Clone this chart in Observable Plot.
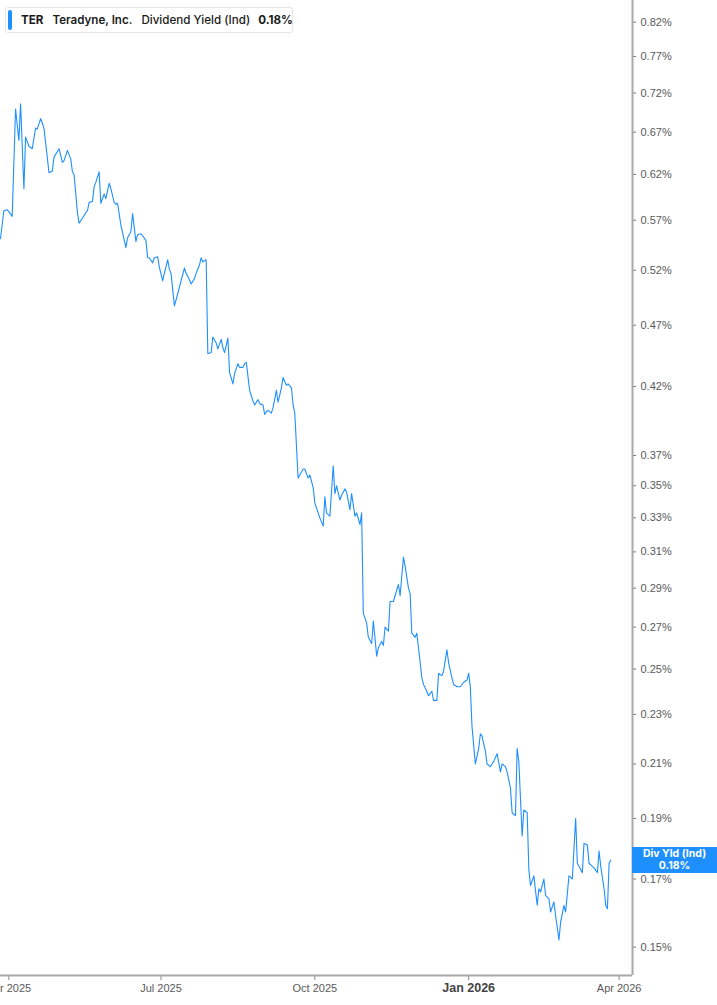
<!DOCTYPE html>
<html>
<head>
<meta charset="utf-8">
<script src="https://cdn.jsdelivr.net/npm/d3@7"></script>
<script src="https://cdn.jsdelivr.net/npm/@observablehq/plot@0.6"></script>
<style>
  html, body { margin: 0; padding: 0; background: #fff; }
  #wrap { position: relative; width: 717px; height: 1005px; overflow: hidden; }
  #legend {
    position: absolute; left: 5px; top: 7px; width: 288px; height: 26px; padding: 0 0 0 15px;
    border: 1px solid #e6e6e6; border-radius: 3px; background: #fff;
    font-family: Inter, "Noto Sans", sans-serif; font-size: 11.6px; color: #1a1a1a;
    display: flex; align-items: center; white-space: nowrap; box-sizing: border-box;
  }
  #legend .bar { position: absolute; left: 2px; top: 2px; bottom: 2px; width: 4px; border-radius: 2px; background: #1e8fff; }
  #legend b { font-weight: 700; }
  #legend .name { font-weight: 600; margin-left: 9px; }
  #legend .metric { font-weight: 500; margin-left: 9px; }
  #legend .val { font-weight: 700; margin-left: 8px; }
  #lastLabel {
    position: absolute; left: 632px; width: 85px; height: 26px; background: #1e8fff; color: #fff;
    font-family: Inter, "Noto Sans", sans-serif; font-size: 10.5px; font-weight: 700; line-height: 12px;
    text-align: center; display: flex; flex-direction: column; justify-content: center;
  }
</style>
</head>
<body>
<div id="wrap">
  <div id="legend"><span class="bar"></span><b id="lgTicker"></b><span class="name" id="lgName"></span><span class="metric" id="lgMetric"></span><span class="val" id="legendVal"></span></div>
</div>
<script>
const ticker = "TER";
const company = "Teradyne, Inc.";
const metricName = "Dividend Yield (Ind)";
const shortName = "Div Yld (Ind)";

const dates = [
"2025-03-27","2025-03-29","2025-03-31","2025-04-01","2025-04-03","2025-04-05","2025-04-07","2025-04-08","2025-04-10","2025-04-11",
"2025-04-13","2025-04-15","2025-04-17","2025-04-18","2025-04-20","2025-04-22","2025-04-23","2025-04-25","2025-04-27","2025-04-28",
"2025-05-01","2025-05-03","2025-05-04","2025-05-06","2025-05-08","2025-05-09","2025-05-10","2025-05-12","2025-05-13","2025-05-15",
"2025-05-17","2025-05-18","2025-05-19","2025-05-21","2025-05-22","2025-05-23","2025-05-25","2025-05-26","2025-05-28","2025-05-29",
"2025-05-31","2025-06-01","2025-06-03","2025-06-04","2025-06-05","2025-06-07","2025-06-10","2025-06-11","2025-06-13","2025-06-14",
"2025-06-16","2025-06-17","2025-06-19","2025-06-20","2025-06-22","2025-06-23","2025-06-24","2025-06-26","2025-06-27","2025-06-29",
"2025-06-30","2025-07-02","2025-07-03","2025-07-05","2025-07-06","2025-07-07","2025-07-09","2025-07-11","2025-07-13","2025-07-15",
"2025-07-16","2025-07-18","2025-07-19","2025-07-21","2025-07-22","2025-07-24","2025-07-25","2025-07-26","2025-07-28","2025-07-29",
"2025-07-31","2025-08-01","2025-08-03","2025-08-04","2025-08-06","2025-08-07","2025-08-08","2025-08-10","2025-08-11","2025-08-13",
"2025-08-14","2025-08-16","2025-08-17","2025-08-19","2025-08-20","2025-08-21","2025-08-23","2025-08-25","2025-08-26","2025-08-28",
"2025-08-29","2025-08-31","2025-09-01","2025-09-02","2025-09-03","2025-09-05","2025-09-06","2025-09-08","2025-09-09","2025-09-11",
"2025-09-12","2025-09-14","2025-09-15","2025-09-17","2025-09-18","2025-09-19","2025-09-21","2025-09-22","2025-09-24","2025-09-25",
"2025-09-27","2025-09-28","2025-09-30","2025-10-01","2025-10-03","2025-10-04","2025-10-06","2025-10-07","2025-10-08","2025-10-10",
"2025-10-12","2025-10-13","2025-10-14","2025-10-16","2025-10-17","2025-10-19","2025-10-20","2025-10-22","2025-10-23","2025-10-25",
"2025-10-26","2025-10-28","2025-10-29","2025-10-30","2025-11-01","2025-11-02","2025-11-04","2025-11-05","2025-11-07","2025-11-08",
"2025-11-10","2025-11-11","2025-11-12","2025-11-14","2025-11-15","2025-11-17","2025-11-18","2025-11-20","2025-11-21","2025-11-23",
"2025-11-24","2025-11-26","2025-11-27","2025-11-28","2025-11-30","2025-12-01","2025-12-03","2025-12-04","2025-12-05","2025-12-07",
"2025-12-08","2025-12-10","2025-12-11","2025-12-13","2025-12-14","2025-12-16","2025-12-17","2025-12-19","2025-12-20","2025-12-22",
"2025-12-23","2025-12-25","2025-12-27","2025-12-28","2025-12-29","2025-12-31","2026-01-01","2026-01-02","2026-01-03","2026-01-05",
"2026-01-07","2026-01-08","2026-01-09","2026-01-11","2026-01-12","2026-01-14","2026-01-15","2026-01-16","2026-01-18","2026-01-20",
"2026-01-21","2026-01-23","2026-01-24","2026-01-26","2026-01-27","2026-01-29","2026-01-30","2026-01-31","2026-02-02","2026-02-03",
"2026-02-05","2026-02-06","2026-02-07","2026-02-09","2026-02-11","2026-02-12","2026-02-13","2026-02-15","2026-02-16","2026-02-18",
"2026-02-19","2026-02-21","2026-02-22","2026-02-24","2026-02-25","2026-02-27","2026-02-28","2026-03-02","2026-03-03","2026-03-04",
"2026-03-06","2026-03-07","2026-03-09","2026-03-10","2026-03-11","2026-03-13","2026-03-14","2026-03-16","2026-03-17","2026-03-19",
"2026-03-20","2026-03-21","2026-03-23","2026-03-24","2026-03-25","2026-03-26","2026-03-27"
];

const yields = [
0.551,0.580,0.581,0.579,0.574,0.699,0.660,0.706,0.604,0.664,
0.653,0.650,0.675,0.674,0.687,0.675,0.657,0.622,0.624,0.640,
0.650,0.634,0.636,0.648,0.638,0.623,0.620,0.578,0.567,0.572,
0.578,0.580,0.589,0.590,0.606,0.611,0.623,0.588,0.598,0.593,
0.610,0.604,0.589,0.587,0.588,0.565,0.542,0.552,0.558,0.577,
0.548,0.555,0.556,0.554,0.549,0.532,0.532,0.527,0.532,0.533,
0.523,0.510,0.517,0.530,0.521,0.517,0.487,0.498,0.510,0.522,
0.517,0.511,0.507,0.512,0.517,0.525,0.532,0.528,0.530,0.446,
0.447,0.460,0.455,0.450,0.458,0.451,0.447,0.459,0.431,0.422,
0.430,0.438,0.435,0.435,0.438,0.439,0.417,0.409,0.406,0.410,
0.407,0.406,0.399,0.401,0.402,0.400,0.404,0.417,0.408,0.419,
0.427,0.421,0.422,0.419,0.406,0.400,0.355,0.357,0.361,0.361,
0.355,0.357,0.349,0.339,0.333,0.330,0.325,0.343,0.333,0.331,
0.363,0.345,0.350,0.341,0.344,0.348,0.346,0.335,0.345,0.331,
0.333,0.326,0.333,0.277,0.272,0.265,0.262,0.273,0.256,0.260,
0.263,0.261,0.270,0.268,0.283,0.283,0.286,0.292,0.286,0.307,
0.302,0.290,0.287,0.267,0.265,0.267,0.253,0.246,0.243,0.240,
0.238,0.240,0.236,0.236,0.248,0.247,0.249,0.259,0.253,0.246,
0.243,0.242,0.242,0.243,0.244,0.245,0.248,0.242,0.225,0.210,
0.216,0.222,0.221,0.215,0.210,0.209,0.210,0.211,0.214,0.207,
0.210,0.209,0.207,0.201,0.192,0.191,0.216,0.211,0.184,0.193,
0.192,0.173,0.168,0.171,0.162,0.167,0.166,0.170,0.165,0.164,
0.160,0.163,0.159,0.152,0.157,0.162,0.160,0.171,0.1705,0.170,
0.190,0.175,0.173,0.172,0.1815,0.181,0.175,0.174,0.1735,0.172,
0.179,0.174,0.167,0.162,0.161,0.175,0.176
];

const yTicks = [0.15,0.17,0.19,0.21,0.23,0.25,0.27,0.29,0.31,0.33,0.35,0.37,0.42,0.47,0.52,0.57,0.62,0.67,0.72,0.77,0.82];
const xTickDates = ["2025-04-01","2025-07-01","2025-10-01","2026-04-01"];
const xTickBold = ["2026-01-01"];
const xDomain = ["2025-03-27","2026-04-09"];
const yDomain = [0.1424, 0.8533];

const parse = s => new Date(s + "T00:00:00Z");
const data = dates.map((d, i) => ({date: parse(d), value: yields[i]}));
const fmtPct = d => d.toFixed(2) + "%";
const fmtMonth = d3.utcFormat("%b %Y");
const axisColor = "#a8a8a8";

const chart = Plot.plot({
  width: 717,
  height: 1005,
  marginTop: 0,
  marginRight: 85,
  marginBottom: 30,
  marginLeft: 0,
  style: {fontFamily: "'Liberation Sans', Arial, sans-serif", background: "#fff", overflow: "visible"},
  x: {type: "utc", domain: xDomain.map(parse), label: null},
  y: {type: "log", domain: yDomain, label: null},
  marks: [
    Plot.axisY({anchor: "right", ticks: yTicks, tickFormat: fmtPct, tickSize: 3, tickPadding: 5, label: null,
      fontSize: 11, stroke: "#777", fill: "#5a5a5a", textAnchor: "start"}),
    Plot.axisX({anchor: "bottom", ticks: xTickDates.map(parse), tickFormat: fmtMonth, tickSize: 5, tickPadding: 4, label: null,
      fontSize: 11, stroke: "#888", fill: "#5a5a5a"}),
    Plot.axisX({anchor: "bottom", ticks: xTickBold.map(parse), tickFormat: fmtMonth, tickSize: 5, tickPadding: 3, label: null,
      fontSize: 12.5, fontWeight: "bold", stroke: "#888", fill: "#444"}),
    Plot.ruleX([parse(xDomain[1])], {stroke: axisColor, strokeWidth: 2}),
    Plot.ruleY([yDomain[0]], {stroke: axisColor, strokeWidth: 2}),
    Plot.lineY(data, {x: "date", y: "value", stroke: "#1e8fff", strokeWidth: 1.1, curve: "linear"})
  ]
});

const wrap = document.getElementById("wrap");
wrap.insertBefore(chart, wrap.firstChild);

const last = data[data.length - 1];
document.getElementById("lgTicker").textContent = ticker;
document.getElementById("lgName").textContent = company;
document.getElementById("lgMetric").textContent = metricName;
document.getElementById("legendVal").textContent = last.value.toFixed(2) + "%";

const yPos = chart.scale("y").apply(last.value);
const lbl = document.createElement("div");
lbl.id = "lastLabel";
lbl.style.top = (yPos - 13) + "px";
lbl.innerHTML = `<div>${shortName}</div><div>${last.value.toFixed(2)}%</div>`;
wrap.appendChild(lbl);
</script>
</body>
</html>
